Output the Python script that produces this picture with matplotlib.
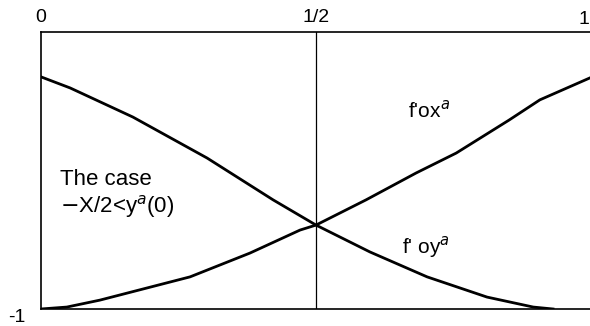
import matplotlib.pyplot as plt

plt.rcParams['font.family'] = ['Liberation Sans', 'DejaVu Sans']

# curve f'oy^a (decreasing) and f'ox^a (increasing) on [0, 1]
x_oy = [0.0, 0.053, 0.167, 0.302, 0.422, 0.5, 0.598, 0.702, 0.811, 0.895, 0.931]
y_oy = [-0.162, -0.202, -0.307, -0.455, -0.606, -0.697, -0.794, -0.884, -0.957, -0.993, -1.0]

x_ox = [0.0, 0.047, 0.107, 0.271, 0.38, 0.471, 0.5, 0.591, 0.682, 0.755, 0.851, 0.907, 1.0]
y_ox = [-1.0, -0.993, -0.968, -0.884, -0.798, -0.715, -0.697, -0.606, -0.509, -0.437, -0.318, -0.245, -0.164]

xticks = [0, 0.5]
xtick_labels = ['0', '1/2']

fig = plt.figure(figsize=(5.9, 3.26), dpi=100)
ax = fig.add_axes([41 / 590, 17 / 326, 550 / 590, 277 / 326])

ax.plot(x_oy, y_oy, color='black', lw=2.0, solid_joinstyle='round')
ax.plot(x_ox, y_ox, color='black', lw=2.0, solid_joinstyle='round')
ax.axvline(0.5, color='black', lw=0.9)

ax.set_xlim(0, 1)
ax.set_ylim(-1, 0)

for side in ['left', 'top', 'bottom']:
    ax.spines[side].set_linewidth(1.2)
ax.spines['right'].set_visible(False)

ax.xaxis.tick_top()
ax.set_xticks(xticks)
ax.set_xticklabels(xtick_labels, fontsize=14)
ax.tick_params(axis='x', length=0, pad=4)
ax.set_yticks([])

# end labels: "1" at the right edge, "-1" at the lower left
fig.text(589 / 590, 1 - 24 / 326, '1', fontsize=14, ha='right', va='baseline')
fig.text(8 / 590, 1 - 322 / 326, '-1', fontsize=14, ha='left', va='baseline')

ax.text(0.667, -0.31, "f'ox$^{a}$", fontsize=15, ha='left', va='baseline')
ax.text(0.656, -0.798, "f' oy$^{a}$", fontsize=15, ha='left', va='baseline')
ax.text(0.035, -0.552, 'The case', fontsize=16, ha='left', va='baseline')
ax.text(0.035, -0.653, '$-$X/2<y$^{a}$(0)', fontsize=16, ha='left', va='baseline')

fig.savefig('out.png', dpi=100)
